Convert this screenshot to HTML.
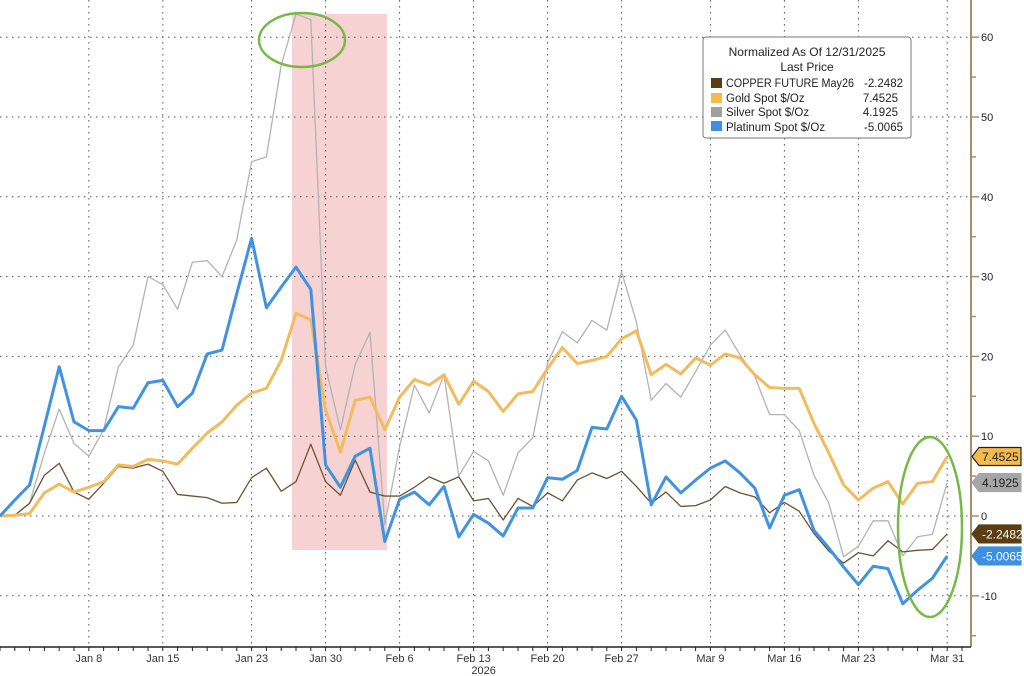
<!DOCTYPE html>
<html><head><meta charset="utf-8"><style>
body{margin:0;background:#fff;}
svg{display:block;font-family:"Liberation Sans",sans-serif;}
</style></head><body>
<svg id="chart" width="1024" height="676" xmlns="http://www.w3.org/2000/svg">
<rect x="292" y="14" width="95" height="536" fill="#f6caca" opacity="0.85"/>
<g id="grid"></g>
<g id="series"></g>
<ellipse cx="302" cy="40" rx="43" ry="27" fill="none" stroke="#76b947" stroke-width="2.5"/>
<ellipse cx="930" cy="527" rx="32" ry="90" fill="none" stroke="#76b947" stroke-width="2.5"/>
<g id="axes"></g>
<g>
<rect x="703" y="37" width="208" height="101" rx="3" fill="#fff" stroke="#777" stroke-width="1"/>
<text x="807" y="56" font-size="12" text-anchor="middle" fill="#222">Normalized As Of 12/31/2025</text>
<text x="807" y="71" font-size="12" text-anchor="middle" fill="#222">Last Price</text>
<g font-size="11.5" fill="#222">
<rect x="711" y="78" width="11" height="10" fill="#5a3d10"/>
<text x="726" y="87" textLength="128" lengthAdjust="spacingAndGlyphs">COPPER FUTURE May26</text><text x="903" y="87" text-anchor="end">-2.2482</text>
<rect x="711" y="93" width="11" height="10" fill="#f5b94e"/>
<text x="726" y="102">Gold Spot $/Oz</text><text x="898" y="102" text-anchor="end">7.4525</text>
<rect x="711" y="107" width="11" height="10" fill="#a0a0a0"/>
<text x="726" y="116">Silver Spot $/Oz</text><text x="898" y="116" text-anchor="end">4.1925</text>
<rect x="711" y="121" width="11" height="10" fill="#3d8fe0"/>
<text x="726" y="131">Platinum Spot $/Oz</text><text x="903" y="131" text-anchor="end">-5.0065</text>
</g></g>
</svg>
<script>
const copper=[0,0.1,1.6,5.1,6.6,3,2.1,4.1,6.2,6,6.5,5.6,2.7,2.5,2.3,1.6,1.7,4.8,6,3.1,4.3,9,4.3,2.6,7,3,2.5,2.5,3.6,4.9,4.1,4.9,1.9,2.2,-0.5,2.2,1.2,2.9,1.9,4.5,5.4,4.7,5.6,3.7,1.6,3,1.2,1.3,2,3.7,2.9,2.4,0.4,1.7,0.6,-2.2,-4.4,-5.9,-4.6,-5,-3.1,-4.5,-4.3,-4.2,-2.2482];
const gold=[0,0.1,0.3,2.9,4,3,3.6,4.3,6.4,6.2,7.1,6.9,6.5,8.5,10.4,11.8,13.9,15.4,16,19.5,25.4,24.6,13.3,8,14.5,14.9,10.8,14.9,17.1,16.4,17.7,14,16.9,15.6,13.1,15.3,15.6,18.5,21.1,19.1,19.5,20,22.2,23.2,17.7,19,17.8,19.8,18.9,20.3,19.8,17.7,16.1,16,16,11.6,7.9,3.9,2,3.5,4.3,1.5,4.1,4.3,7.4525];
const silver=[0,0.1,1.6,7.9,13.4,9.1,7.5,10.8,18.7,21.4,30,29,25.9,31.8,32,30,34.6,44.4,45,56.5,62.9,62.2,18.7,10.8,19,23,-1.1,8.7,16.4,12.9,17.7,5,8.1,6.9,2.6,7.9,9.8,19.2,23.1,21.7,24.5,23.3,30.6,24.3,14.5,16.6,14.9,18.1,21.4,23.3,20.2,17.5,12.7,12.7,10.7,5.1,1.6,-5.1,-3.8,-0.6,-0.6,-5,-2.6,-2.3,4.1925];
const platinum=[0,2,3.9,11.3,18.7,11.8,10.7,10.7,13.7,13.5,16.7,17,13.7,15.4,20.3,20.8,27.9,34.8,26.1,28.7,31.2,28.4,6.4,3.6,7.5,8.5,-3.2,2.1,3,1.4,3.7,-2.6,0.2,-0.9,-2.5,1,1,4.8,4.6,5.7,11.1,10.9,15,12,1.4,4.9,2.9,4.5,6,6.9,5.4,3.5,-1.5,2.6,3.3,-1.8,-4,-6.4,-8.6,-6.3,-6.6,-11,-9.3,-7.8,-5.0065];
const yTicks=[60,50,40,30,20,10,0,-10];
const xLabels=["Jan 8","Jan 15","Jan 23","Jan 30","Feb 6","Feb 13","Feb 20","Feb 27","Mar 9","Mar 16","Mar 23","Mar 31"];
const xLabelIdx=[6,11,17,22,27,32,37,42,48,53,58,64];
const lastVals=[7.4525,4.1925,-2.2482,-5.0065];

const NS="http://www.w3.org/2000/svg";
const X=i=>i*14.8;
const Y=v=>516-v*7.98;
const AX=971, AY=647;
function mk(tag,attrs,parent){const e=document.createElementNS(NS,tag);for(const k in attrs)e.setAttribute(k,attrs[k]);parent.appendChild(e);return e;}
const grid=document.getElementById('grid'),ser=document.getElementById('series'),axes=document.getElementById('axes');
yTicks.forEach(t=>{const l=mk('line',{x1:0,x2:AX,y1:Y(t),y2:Y(t),stroke:'#555','stroke-width':1,'stroke-dasharray':'1.5,4.5'},grid);

});
xLabelIdx.forEach(i=>{const l=mk('line',{x1:X(i),x2:X(i),y1:0,y2:AY,stroke:'#555','stroke-width':1,'stroke-dasharray':'1.5,4.5'},grid);

});
function line(d,color,w,name){const p=mk('polyline',{points:d.map((v,i)=>X(i)+','+Y(v)).join(' '),fill:'none',stroke:color,'stroke-width':w,'stroke-linejoin':'round'},ser);

}
line(silver,'#b3b3b3',1.3,'silver-line');
line(copper,'#6b5232',1.3,'copper-line');
line(gold,'#f2bc5e',3,'gold-line');
line(platinum,'#4192e0',3,'platinum-line');
let a=mk('line',{x1:AX,x2:AX,y1:0,y2:AY,stroke:'#a48f6a','stroke-width':2},axes);


a=mk('line',{x1:0,x2:AX,y1:AY,y2:AY,stroke:'#222','stroke-width':1.5},axes);


for(let v=-15;v<=65;v+=5){mk('line',{x1:AX,x2:AX+(v%10===0?8:5),y1:Y(v),y2:Y(v),stroke:'#a48f6a','stroke-width':1.5},axes);}
yTicks.forEach(t=>{const e=mk('text',{x:AX+10,y:Y(t)+4,'font-size':11,fill:'#222'},axes);e.textContent=t;

});
for(let i=0;i<=65;i++){mk('line',{x1:X(i),x2:X(i),y1:AY,y2:AY+4,stroke:'#222','stroke-width':1},axes);}
xLabels.forEach((s,k)=>{const e=mk('text',{x:X(xLabelIdx[k]),y:AY+15,'font-size':11,fill:'#333','text-anchor':'middle'},axes);e.textContent=s;

});
const yr=mk('text',{x:X(32)+10,y:AY+27,'font-size':11,fill:'#333','text-anchor':'middle'},axes);yr.textContent='2026';


const tagColors=[['#f5b94e','#222','#222'],['#a6a6a6','#a6a6a6','#222'],['#5a3d10','#5a3d10','#fff'],['#3d8fe0','#3d8fe0','#fff']];
const tagNames=['gold-value-tag','silver-value-tag','copper-value-tag','platinum-value-tag'];
lastVals.forEach((v,k)=>{const y=Y(v),x0=AX+1,x1=1021;
const g=mk('g',{},axes);


mk('polygon',{points:`${x0},${y} ${x0+7},${y-9} ${x1},${y-9} ${x1},${y+9} ${x0+7},${y+9}`,fill:tagColors[k][0],stroke:tagColors[k][1],'stroke-width':1.2},g);
const t=mk('text',{x:x0+10,y:y+4.5,'font-size':12,fill:tagColors[k][2]},g);t.textContent=v.toFixed(4);});
</script>
</body></html>
